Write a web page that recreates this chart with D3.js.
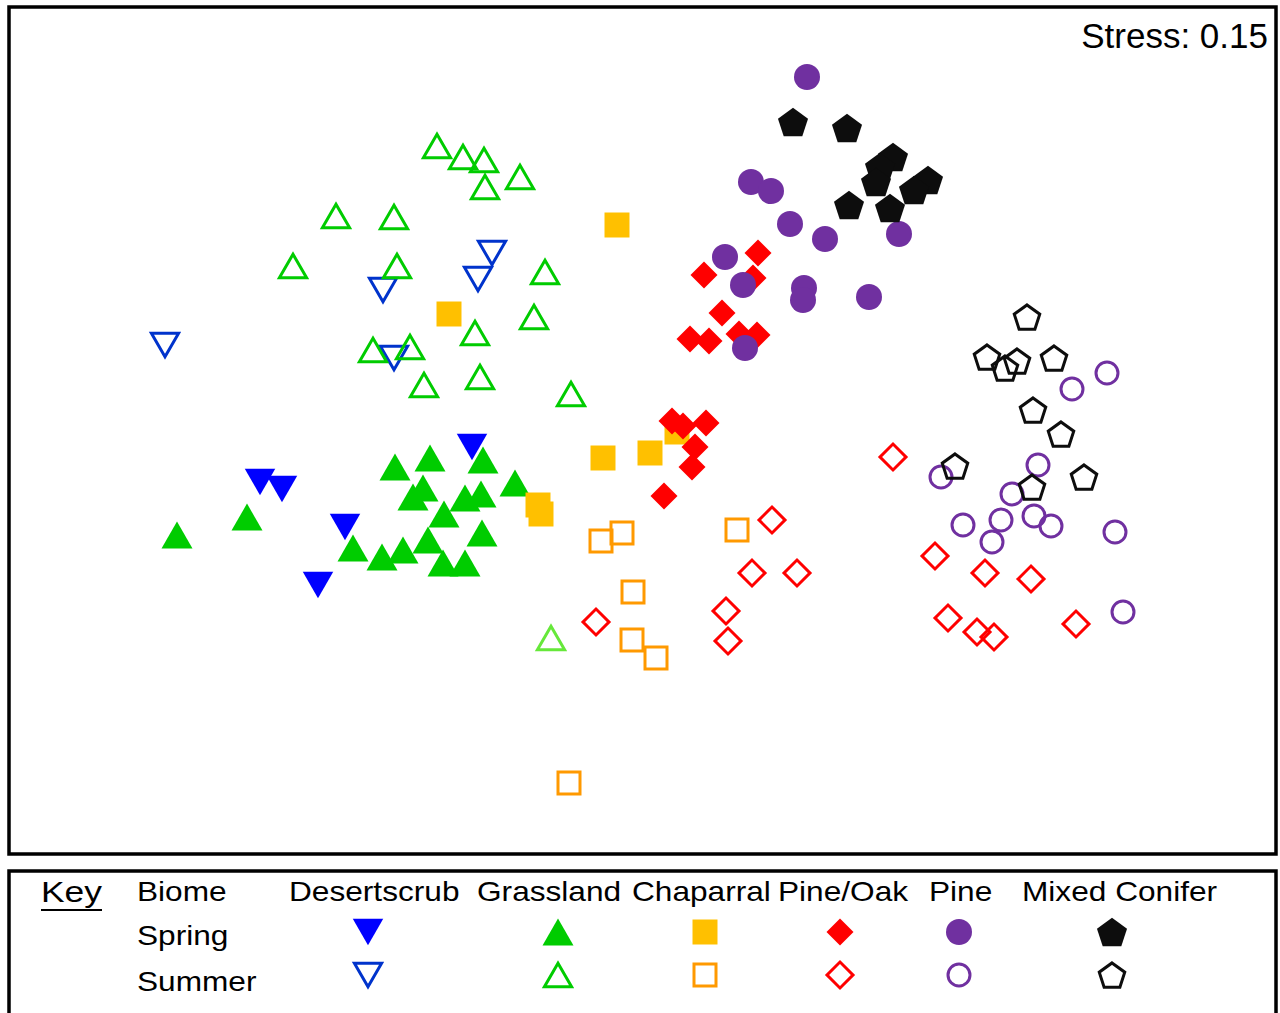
<!DOCTYPE html>
<html>
<head>
<meta charset="utf-8">
<script src="https://cdn.jsdelivr.net/npm/d3@7"></script>
<style>
  body { margin: 0; background: #fff; }
  svg { display: block; font-family: "Liberation Sans", Arial, sans-serif; }
</style>
</head>
<body>
<svg id="chart" width="1280" height="1013"></svg>
<script>
// Biomes and seasons shown in the key
const biomes = ["Desertscrub", "Grassland", "Chaparral", "Pine/Oak", "Pine", "Mixed Conifer"];
const seasons = ["Spring", "Summer"];
const stressLabel = "Stress: 0.15";

// NMDS scores [axis 1, axis 2]
const desertSpring = [[-0.95, -0.105], [-0.895, -0.1225], [-0.7375, -0.2175], [-0.805, -0.3625], [-0.42, -0.0175]];
const desertSummer = [[-1.1875, 0.2375], [-0.6425, 0.375], [-0.615, 0.205], [-0.37, 0.4675], [-0.405, 0.4025]];

const grassSpring = [[-1.1575, -0.2375], [-0.9825, -0.1925], [-0.6125, -0.0675], [-0.525, -0.045], [-0.3925, -0.05],
  [-0.3125, -0.1075], [-0.5675, -0.1425], [-0.5425, -0.12], [-0.4375, -0.145], [-0.3975, -0.135], [-0.49, -0.185],
  [-0.7175, -0.27], [-0.645, -0.2925], [-0.5925, -0.275], [-0.53, -0.25], [-0.395, -0.2325], [-0.4925, -0.3075],
  [-0.4375, -0.3075]];
const grassSummer = [[-0.5075, 0.735], [-0.4425, 0.7075], [-0.39, 0.70], [-0.3875, 0.6325], [-0.30, 0.6575],
  [-0.76, 0.56], [-0.615, 0.5575], [-0.8675, 0.435], [-0.6075, 0.435], [-0.2375, 0.42], [-0.4125, 0.2675],
  [-0.265, 0.3075], [-0.6675, 0.225], [-0.575, 0.2325], [-0.54, 0.1375], [-0.40, 0.1575], [-0.1725, 0.115]];
const grassSummerLight = [[-0.2225, -0.495]];

const chapSpring = [[-0.0575, 0.5375], [-0.4775, 0.315], [-0.0925, -0.045], [0.025, -0.0325], [0.0925, 0.02],
  [-0.255, -0.1625], [-0.2475, -0.185]];
const chapSummer = [[-0.0975, -0.2525], [-0.045, -0.2325], [0.2425, -0.225], [-0.0175, -0.38], [-0.02, -0.50],
  [0.04, -0.545], [-0.1775, -0.8575]];

const pineOakSpring = [[0.295, 0.4675], [0.16, 0.4125], [0.2825, 0.405], [0.205, 0.3175], [0.125, 0.2525],
  [0.1725, 0.2475], [0.2475, 0.265], [0.2925, 0.2625], [0.08, 0.0475], [0.1075, 0.035], [0.165, 0.0425],
  [0.1375, -0.0175], [0.13, -0.0675], [0.06, -0.14]];
const pineOakSummer = [[0.33, -0.20], [0.28, -0.3325], [0.3925, -0.3325], [0.215, -0.4275], [0.22, -0.5025],
  [-0.11, -0.455], [0.6325, -0.0425], [0.7375, -0.29], [0.8625, -0.3325], [0.9775, -0.3475], [0.77, -0.445],
  [0.8425, -0.48], [0.885, -0.4925], [1.09, -0.46]];

const pineSpring = [[0.4175, 0.9075], [0.2775, 0.645], [0.3275, 0.6225], [0.375, 0.54], [0.4625, 0.5025],
  [0.6475, 0.515], [0.2125, 0.4575], [0.2575, 0.3875], [0.41, 0.38], [0.4075, 0.35], [0.5725, 0.3575],
  [0.2625, 0.23]];
const pineSummer = [[1.1675, 0.1675], [1.08, 0.1275], [0.7525, -0.0925], [0.995, -0.0625], [0.93, -0.135],
  [0.8075, -0.2125], [0.9025, -0.20], [0.985, -0.19], [1.0275, -0.215], [0.88, -0.255], [1.1875, -0.23],
  [1.2075, -0.43]];

const mixedSpring = [[0.3825, 0.795], [0.5175, 0.78], [0.6325, 0.7075], [0.60, 0.6825], [0.59, 0.645],
  [0.72, 0.65], [0.685, 0.625], [0.5225, 0.5875], [0.625, 0.58]];
const mixedSummer = [[0.9675, 0.3075], [0.8675, 0.2075], [0.9425, 0.1975], [0.9125, 0.18], [1.035, 0.205],
  [0.9825, 0.075], [1.0525, 0.015], [0.7875, -0.065], [0.98, -0.1175], [1.11, -0.0925]];

// equilateral triangle centred on its bounding box, size = side^2
const symbolTri = {
  draw(ctx, size) {
    const s = Math.sqrt(size), h = s * Math.sqrt(3) / 2;
    ctx.moveTo(0, -h / 2);
    ctx.lineTo(s / 2, h / 2);
    ctx.lineTo(-s / 2, h / 2);
    ctx.closePath();
  }
};

// pentagon symbol, size = radius^2
const symbolPentagon = {
  draw(ctx, size) {
    const r = Math.sqrt(size);
    for (let k = 0; k < 5; k++) {
      const a = -Math.PI / 2 + k * 2 * Math.PI / 5;
      const px = r * Math.cos(a), py = r * Math.sin(a) + r * 0.1;
      k === 0 ? ctx.moveTo(px, py) : ctx.lineTo(px, py);
    }
    ctx.closePath();
  }
};

// marker style per biome, sizes: [filled, open]
const styles = {
  "Desertscrub":   { type: symbolTri,       rot: 180, fill: "#0000ff", line: "#0033cc", sizes: [930, 740] },
  "Grassland":     { type: symbolTri,       rot: 0,   fill: "#00cc00", line: "#00cc00", sizes: [960, 740] },
  "Chaparral":     { type: d3.symbolSquare, rot: 0,   fill: "#ffc000", line: "#ff9900", sizes: [625, 484] },
  "Pine/Oak":      { type: d3.symbolSquare, rot: 45,  fill: "#ff0000", line: "#ff0000", sizes: [365, 338] },
  "Pine":          { type: d3.symbolCircle, rot: 0,   fill: "#7030a0", line: "#7030a0", sizes: [531, 380] },
  "Mixed Conifer": { type: symbolPentagon,  rot: 0,   fill: "#0d0d0d", line: "#0d0d0d", sizes: [250, 180] }
};

const series = [
  { biome: "Desertscrub", season: "Spring", pts: desertSpring },
  { biome: "Desertscrub", season: "Summer", pts: desertSummer },
  { biome: "Grassland", season: "Spring", pts: grassSpring },
  { biome: "Grassland", season: "Summer", pts: grassSummer },
  { biome: "Grassland", season: "Summer", pts: grassSummerLight, color: "#66e83a" },
  { biome: "Chaparral", season: "Spring", pts: chapSpring },
  { biome: "Chaparral", season: "Summer", pts: chapSummer },
  { biome: "Pine/Oak", season: "Spring", pts: pineOakSpring },
  { biome: "Pine/Oak", season: "Summer", pts: pineOakSummer },
  { biome: "Pine", season: "Spring", pts: pineSpring },
  { biome: "Pine", season: "Summer", pts: pineSummer },
  { biome: "Mixed Conifer", season: "Spring", pts: mixedSpring },
  { biome: "Mixed Conifer", season: "Summer", pts: mixedSummer }
];

const svg = d3.select("#chart");

const x = d3.scaleLinear().domain([-1.6, 1.6]).range([0, 1280]);
const y = d3.scaleLinear().domain([-1.1, 1.1]).range([880, 0]);

function drawMarker(sel, biome, season, color) {
  const st = styles[biome];
  const open = season === "Summer";
  sel.append("path")
    .attr("d", d3.symbol().type(st.type).size(st.sizes[open ? 1 : 0])())
    .attr("fill", open ? "none" : (color || st.fill))
    .attr("stroke", open ? (color || st.line) : "none")
    .attr("stroke-width", open ? 3 : 0)
    .attr("stroke-linejoin", "miter")
    .attr("transform", st.rot ? `rotate(${st.rot})` : null);
}

// plot frame
svg.append("rect")
    .attr("x", 9).attr("y", 7)
    .attr("width", 1267).attr("height", 847)
    .attr("fill", "none").attr("stroke", "#000").attr("stroke-width", 3.5);

const plot = svg.append("g").attr("class", "points");

series.forEach(s => {
  plot.selectAll(null)
    .data(s.pts)
    .join("g")
      .attr("transform", d => `translate(${x(d[0])},${y(d[1])})`)
      .each(function () { drawMarker(d3.select(this), s.biome, s.season, s.color); });
});

svg.append("text")
    .attr("x", 1268).attr("y", 48)
    .attr("text-anchor", "end")
    .attr("font-size", 35)
    .text(stressLabel);

// key
const key = svg.append("g").attr("class", "key");
key.append("rect")
    .attr("x", 9).attr("y", 871)
    .attr("width", 1267).attr("height", 160)
    .attr("fill", "none").attr("stroke", "#000").attr("stroke-width", 3.5);

function keyText(tx, ty, label, size, sx) {
  key.append("text")
      .attr("transform", `translate(${tx},${ty}) scale(${sx},1)`)
      .attr("font-size", size)
      .text(label);
}

keyText(41, 902, "Key", 30, 1.18);
key.append("line")
    .attr("x1", 41).attr("x2", 102).attr("y1", 910).attr("y2", 910)
    .attr("stroke", "#000").attr("stroke-width", 2);

keyText(137, 901, "Biome", 28, 1.13);
const rowY = [945, 991];
seasons.forEach((s, i) => keyText(137, rowY[i], s, 28, 1.13));

const headX = [289, 477, 632, 778, 929, 1022];
const markX = [368, 558, 705, 840, 959, 1112];
const markY = [932, 975];
biomes.forEach((b, i) => {
  keyText(headX[i], 901, b, 28, 1.13);
  seasons.forEach((s, j) => {
    const g = key.append("g").attr("transform", `translate(${markX[i]},${markY[j]})`);
    drawMarker(g, b, s);
  });
});
</script>
</body>
</html>
